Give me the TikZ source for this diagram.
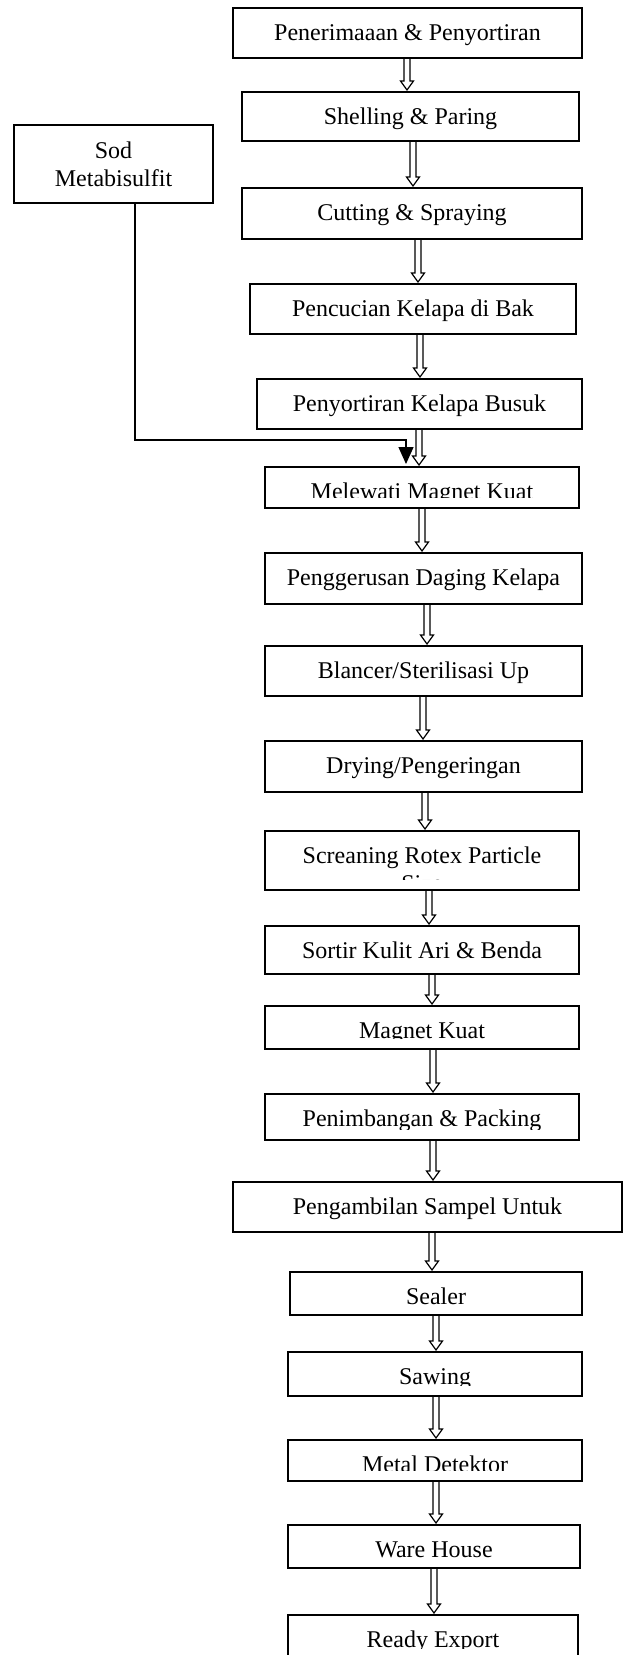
\documentclass[tikz,border=0pt]{standalone}
\usepackage{fontspec}
\setmainfont{Liberation Serif}
\usetikzlibrary{calc,arrows.meta}

% a process box given by its corners; the label sits 32pt below the top edge
% and is cut off 11pt above the bottom edge
\newcommand\flowbox[6]{%
  \node[stepbox, anchor=north west, minimum width={#4-#2}, minimum height={#5-#3}] (#1) at (#2,#3) {};
  \begin{scope}
    \clip (#1.north west) rectangle ([yshift=11pt]#1.south east);
    \node[steptext] (#1t) at ([yshift=-32pt]#1.north) {#6};
  \end{scope}
}

\begin{document}
\begin{tikzpicture}[x=1pt, y=-1pt,
  stepbox/.style={draw, line width=1.3pt, rectangle, inner sep=0pt, outer sep=0pt},
  steptext/.style={anchor=base, inner sep=0pt, font=\fontsize{24}{28}\selectfont},
  hollow/.style={draw, line width=1.2pt, line join=miter,
    to path={let \p1=(\tikztostart), \p2=(\tikztotarget) in
      (\x1-3pt,\y1) -- (\x1-3pt,\y2+11pt) -- (\x1-6.5pt,\y2+11pt) -- (\x1,\y2+2pt)
      -- (\x1+6.5pt,\y2+11pt) -- (\x1+3pt,\y2+11pt) -- (\x1+3pt,\y1)}},
  feed/.style={draw, line width=1.3pt, -{Triangle[width=15pt,length=17pt]}, shorten >=3pt}]

\useasboundingbox (0,0) rectangle (624,1655);
\clip (0,0) rectangle (624,1655);
\fill[white] (0,0) rectangle (624,1655);

% process steps
\flowbox{n1}{233}{8}{582}{58}{Penerimaaan \& Penyortiran}
\flowbox{n2}{242}{92}{579}{141}{Shelling \& Paring}
\flowbox{n3}{242}{188}{582}{239}{Cutting \& Spraying}
\flowbox{n4}{250}{284}{576}{334}{Pencucian Kelapa di Bak}
\flowbox{n5}{257}{379}{582}{429}{Penyortiran Kelapa Busuk}
\flowbox{n6}{265}{467}{579}{508}{Melewati Magnet Kuat}
\flowbox{n7}{265}{553}{582}{604}{Penggerusan Daging Kelapa}
\flowbox{n8}{265}{646}{582}{696}{Blancer/Sterilisasi Up}
\flowbox{n9}{265}{741}{582}{792}{Drying/Pengeringan}
\flowbox{n10}{265}{831}{579}{890}{Screaning Rotex Particle}
\begin{scope}
  \clip (n10.north west) rectangle ([yshift=11pt]n10.south east);
  \node[steptext] (n10s) at ([yshift=-60pt]n10.north) {Size};
\end{scope}
\flowbox{n11}{265}{926}{579}{974}{Sortir Kulit Ari \& Benda}
\flowbox{n12}{265}{1006}{579}{1049}{Magnet Kuat}
\flowbox{n13}{265}{1094}{579}{1140}{Penimbangan \& Packing}
\flowbox{n14}{233}{1182}{622}{1232}{Pengambilan Sampel Untuk}
\flowbox{n15}{290}{1272}{582}{1315}{Sealer}
\flowbox{n16}{288}{1352}{582}{1396}{Sawing}
\flowbox{n17}{288}{1440}{582}{1481}{Metal Detektor}
\flowbox{n18}{288}{1525}{580}{1568}{Ware House}
\flowbox{n19}{288}{1615}{578}{1659}{Ready Export}

% additive
\node[stepbox, anchor=north west, minimum width=199, minimum height=78] (sod) at (14,125) {};
\node[inner sep=0pt, align=center, font=\fontsize{24}{28}\selectfont] (sodt) at (sod.center) {Sod\\Metabisulfit};

% arrow positions
\coordinate (a1) at (407,0);
\coordinate (a2) at (413,0);
\coordinate (a3) at (418,0);
\coordinate (a4) at (420,0);
\coordinate (a5) at (419,0);
\coordinate (a6) at (422,0);
\coordinate (a7) at (427,0);
\coordinate (a8) at (423,0);
\coordinate (a9) at (425,0);
\coordinate (a10) at (429,0);
\coordinate (a11) at (432,0);
\coordinate (a12) at (433,0);
\coordinate (a13) at (433,0);
\coordinate (a14) at (432,0);
\coordinate (a15) at (436,0);
\coordinate (a16) at (436,0);
\coordinate (a17) at (436,0);
\coordinate (a18) at (434,0);

% flow arrows
\foreach \i [evaluate=\i as \j using int(\i+1)] in {1,...,18}
  \path[hollow] (n\i.south -| a\i) to (n\j.north -| a\i);

% feed line from the additive box
\coordinate (bend1) at (135,440);
\coordinate (bend2) at (406,440);
\draw[feed] (sod.south -| bend1) -- (bend1) -- (bend2) -- (bend2 |- n6.north);

\end{tikzpicture}
\end{document}
